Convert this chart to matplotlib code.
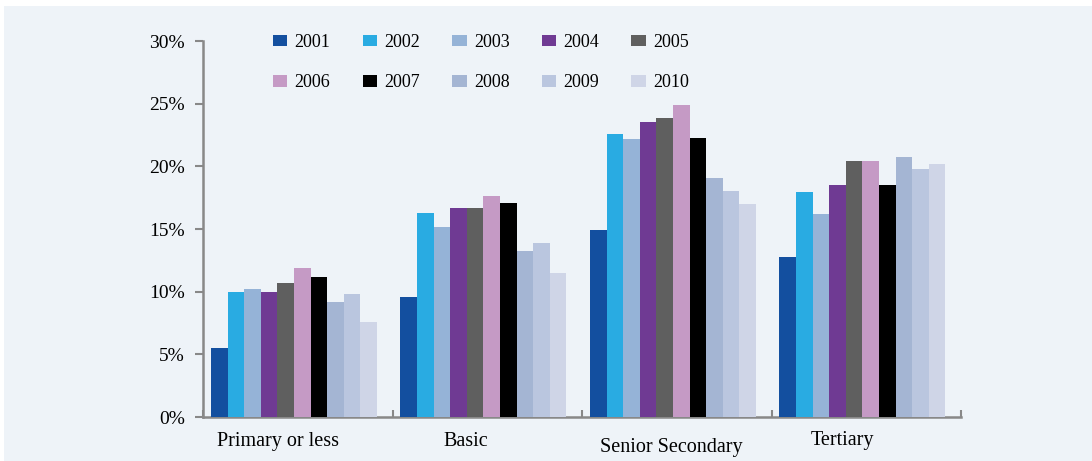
import numpy as np
import matplotlib.pyplot as plt
from matplotlib.patches import Rectangle, Patch

plt.rcParams['font.family'] = ['Liberation Serif', 'DejaVu Serif']

categories = ['Primary or less', 'Basic', 'Senior Secondary', 'Tertiary']
years = ['2001', '2002', '2003', '2004', '2005', '2006', '2007', '2008', '2009', '2010']
colors = ['#134f9f', '#29abe2', '#95b3d7', '#6f3a93', '#5f5f5f',
          '#c59ac5', '#000000', '#a4b5d3', '#bac6df', '#cfd5e7']

# share (%) by education level, one list per year
v2001 = [5.5, 9.55, 14.9, 12.8]
v2002 = [10.0, 16.3, 22.6, 17.95]
v2003 = [10.2, 15.15, 22.15, 16.2]
v2004 = [10.0, 16.7, 23.55, 18.5]
v2005 = [10.7, 16.65, 23.85, 20.45]
v2006 = [11.9, 17.65, 24.9, 20.4]
v2007 = [11.2, 17.05, 22.25, 18.5]
v2008 = [9.2, 13.25, 19.05, 20.75]
v2009 = [9.8, 13.85, 18.05, 19.75]
v2010 = [7.55, 11.45, 17.0, 20.15]
values = [v2001, v2002, v2003, v2004, v2005, v2006, v2007, v2008, v2009, v2010]

fig = plt.figure(figsize=(10.92, 4.61), dpi=100)
fig.patch.set_facecolor('white')
fig.patches.append(Rectangle((4/1092, 0), 1, (461-6)/461, transform=fig.transFigure,
                             facecolor='#eef3f8', edgecolor='none', zorder=-10))

ax = fig.add_axes([203/1092, 44/461, 758/1092, 376/461])
ax.set_facecolor('none')

x = np.arange(len(categories))
n = len(years)
w = 0.0876
for i in range(n):
    ax.bar(x - 0.02 + (i - (n-1)/2) * w, values[i], width=w, color=colors[i],
           linewidth=0, zorder=3)

ax.set_xlim(-0.5, 3.5)
ax.set_ylim(0, 30)
ax.set_yticks(range(0, 31, 5))
ax.set_yticklabels([f'{t}%' for t in range(0, 31, 5)], fontsize=14)

ax.set_xticks(np.arange(-0.5, 3.6, 1))
ax.set_xticklabels([])
ax.tick_params(axis='x', direction='in', length=5, width=1.5, color='#888888')
ax.tick_params(axis='y', direction='out', length=6, width=1.5, color='#888888', pad=7)

for s in ['top', 'right']:
    ax.spines[s].set_visible(False)
for s in ['left', 'bottom']:
    ax.spines[s].set_color('#888888')
    ax.spines[s].set_linewidth(1.8)

# category labels (as in the original, slightly uneven placement)
lab_x = [-0.104, 0.885, 1.970, 2.875]
lab_y = [441, 441, 447, 440]
for lx, ly, c in zip(lab_x, lab_y, categories):
    ax.text(lx, -(ly - 417) / 376 * 30, c, ha='center', va='center', fontsize=14.5, clip_on=False)

# legend filled row by row (matplotlib fills by column)
order = [0, 5, 1, 6, 2, 7, 3, 8, 4, 9]
handles = [Patch(facecolor=colors[k], edgecolor='none') for k in order]
labels = [years[k] for k in order]
fig.legend(handles, labels, loc='upper left', bbox_to_anchor=(273/1092, 1 - 34/461),
           ncol=5, frameon=False, fontsize=13, handlelength=0.8, handleheight=0.6,
           handletextpad=0.4, columnspacing=1.78, labelspacing=1.3,
           borderpad=0, borderaxespad=0)

fig.savefig('out.png', dpi=100)
